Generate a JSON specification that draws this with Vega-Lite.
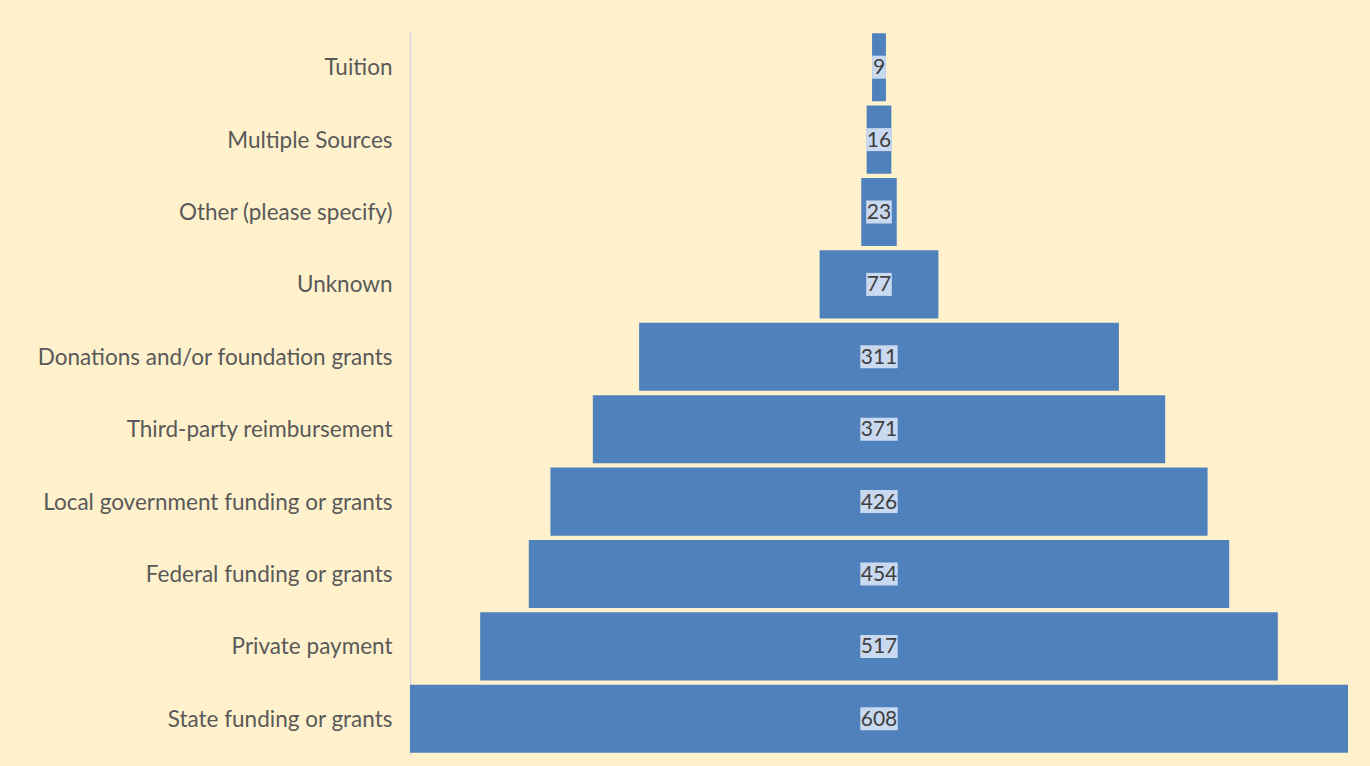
{
  "$schema": "https://vega.github.io/schema/vega-lite/v6.json",
  "width": 938,
  "height": 724,
  "autosize": {"type": "none"},
  "padding": {"left": 410, "top": 31, "right": 22, "bottom": 11},
  "background": "#FFF1CC",
  "config": {"view": {"stroke": null}, "font": "Lato"},
  "data": {
    "values": [
      {"source": "Tuition", "value": 9, "label": "9"},
      {"source": "Multiple Sources", "value": 16, "label": "16"},
      {"source": "Other (please specify)", "value": 23, "label": "23"},
      {"source": "Unknown", "value": 77, "label": "77"},
      {"source": "Donations and/or foundation grants", "value": 311, "label": "311"},
      {"source": "Third-party reimbursement", "value": 371, "label": "371"},
      {"source": "Local government funding or grants", "value": 426, "label": "426"},
      {"source": "Federal funding or grants", "value": 454, "label": "454"},
      {"source": "Private payment", "value": 517, "label": "517"},
      {"source": "State funding or grants", "value": 608, "label": "608"}
    ]
  },
  "encoding": {
    "y": {
      "field": "source",
      "type": "nominal",
      "sort": null,
      "title": null,
      "scale": {"paddingInner": 0.06, "paddingOuter": 0.03},
      "axis": {
        "domainColor": "#D9D9D9",
        "domainWidth": 1.5,
        "ticks": false,
        "labelFontSize": 22.5,
        "labelColor": "#595959",
        "labelPadding": 18,
        "labelOffset": 1,
        "labelFont": "Lato",
        "labelLimit": 400
      }
    }
  },
  "layer": [
    {
      "mark": {"type": "bar", "color": "#4F81BD"},
      "encoding": {
        "x": {
          "field": "value",
          "type": "quantitative",
          "stack": "center",
          "scale": {"domain": [0, 608], "nice": false},
          "axis": null
        }
      }
    },
    {
      "mark": {
        "type": "bar",
        "color": "#C9D9EF",
        "size": 23,
        "xOffset": {"expr": "-length(datum.label) * 5.9 - 1"},
        "x2Offset": {"expr": "length(datum.label) * 5.9 + 1"}
      },
      "encoding": {
        "x": {"datum": 304, "type": "quantitative"},
        "x2": {"datum": 304}
      }
    },
    {
      "mark": {"type": "text", "fontSize": 21, "color": "#404040", "font": "Lato", "dy": 1},
      "encoding": {
        "x": {"datum": 304, "type": "quantitative"},
        "text": {"field": "label"}
      }
    }
  ]
}
